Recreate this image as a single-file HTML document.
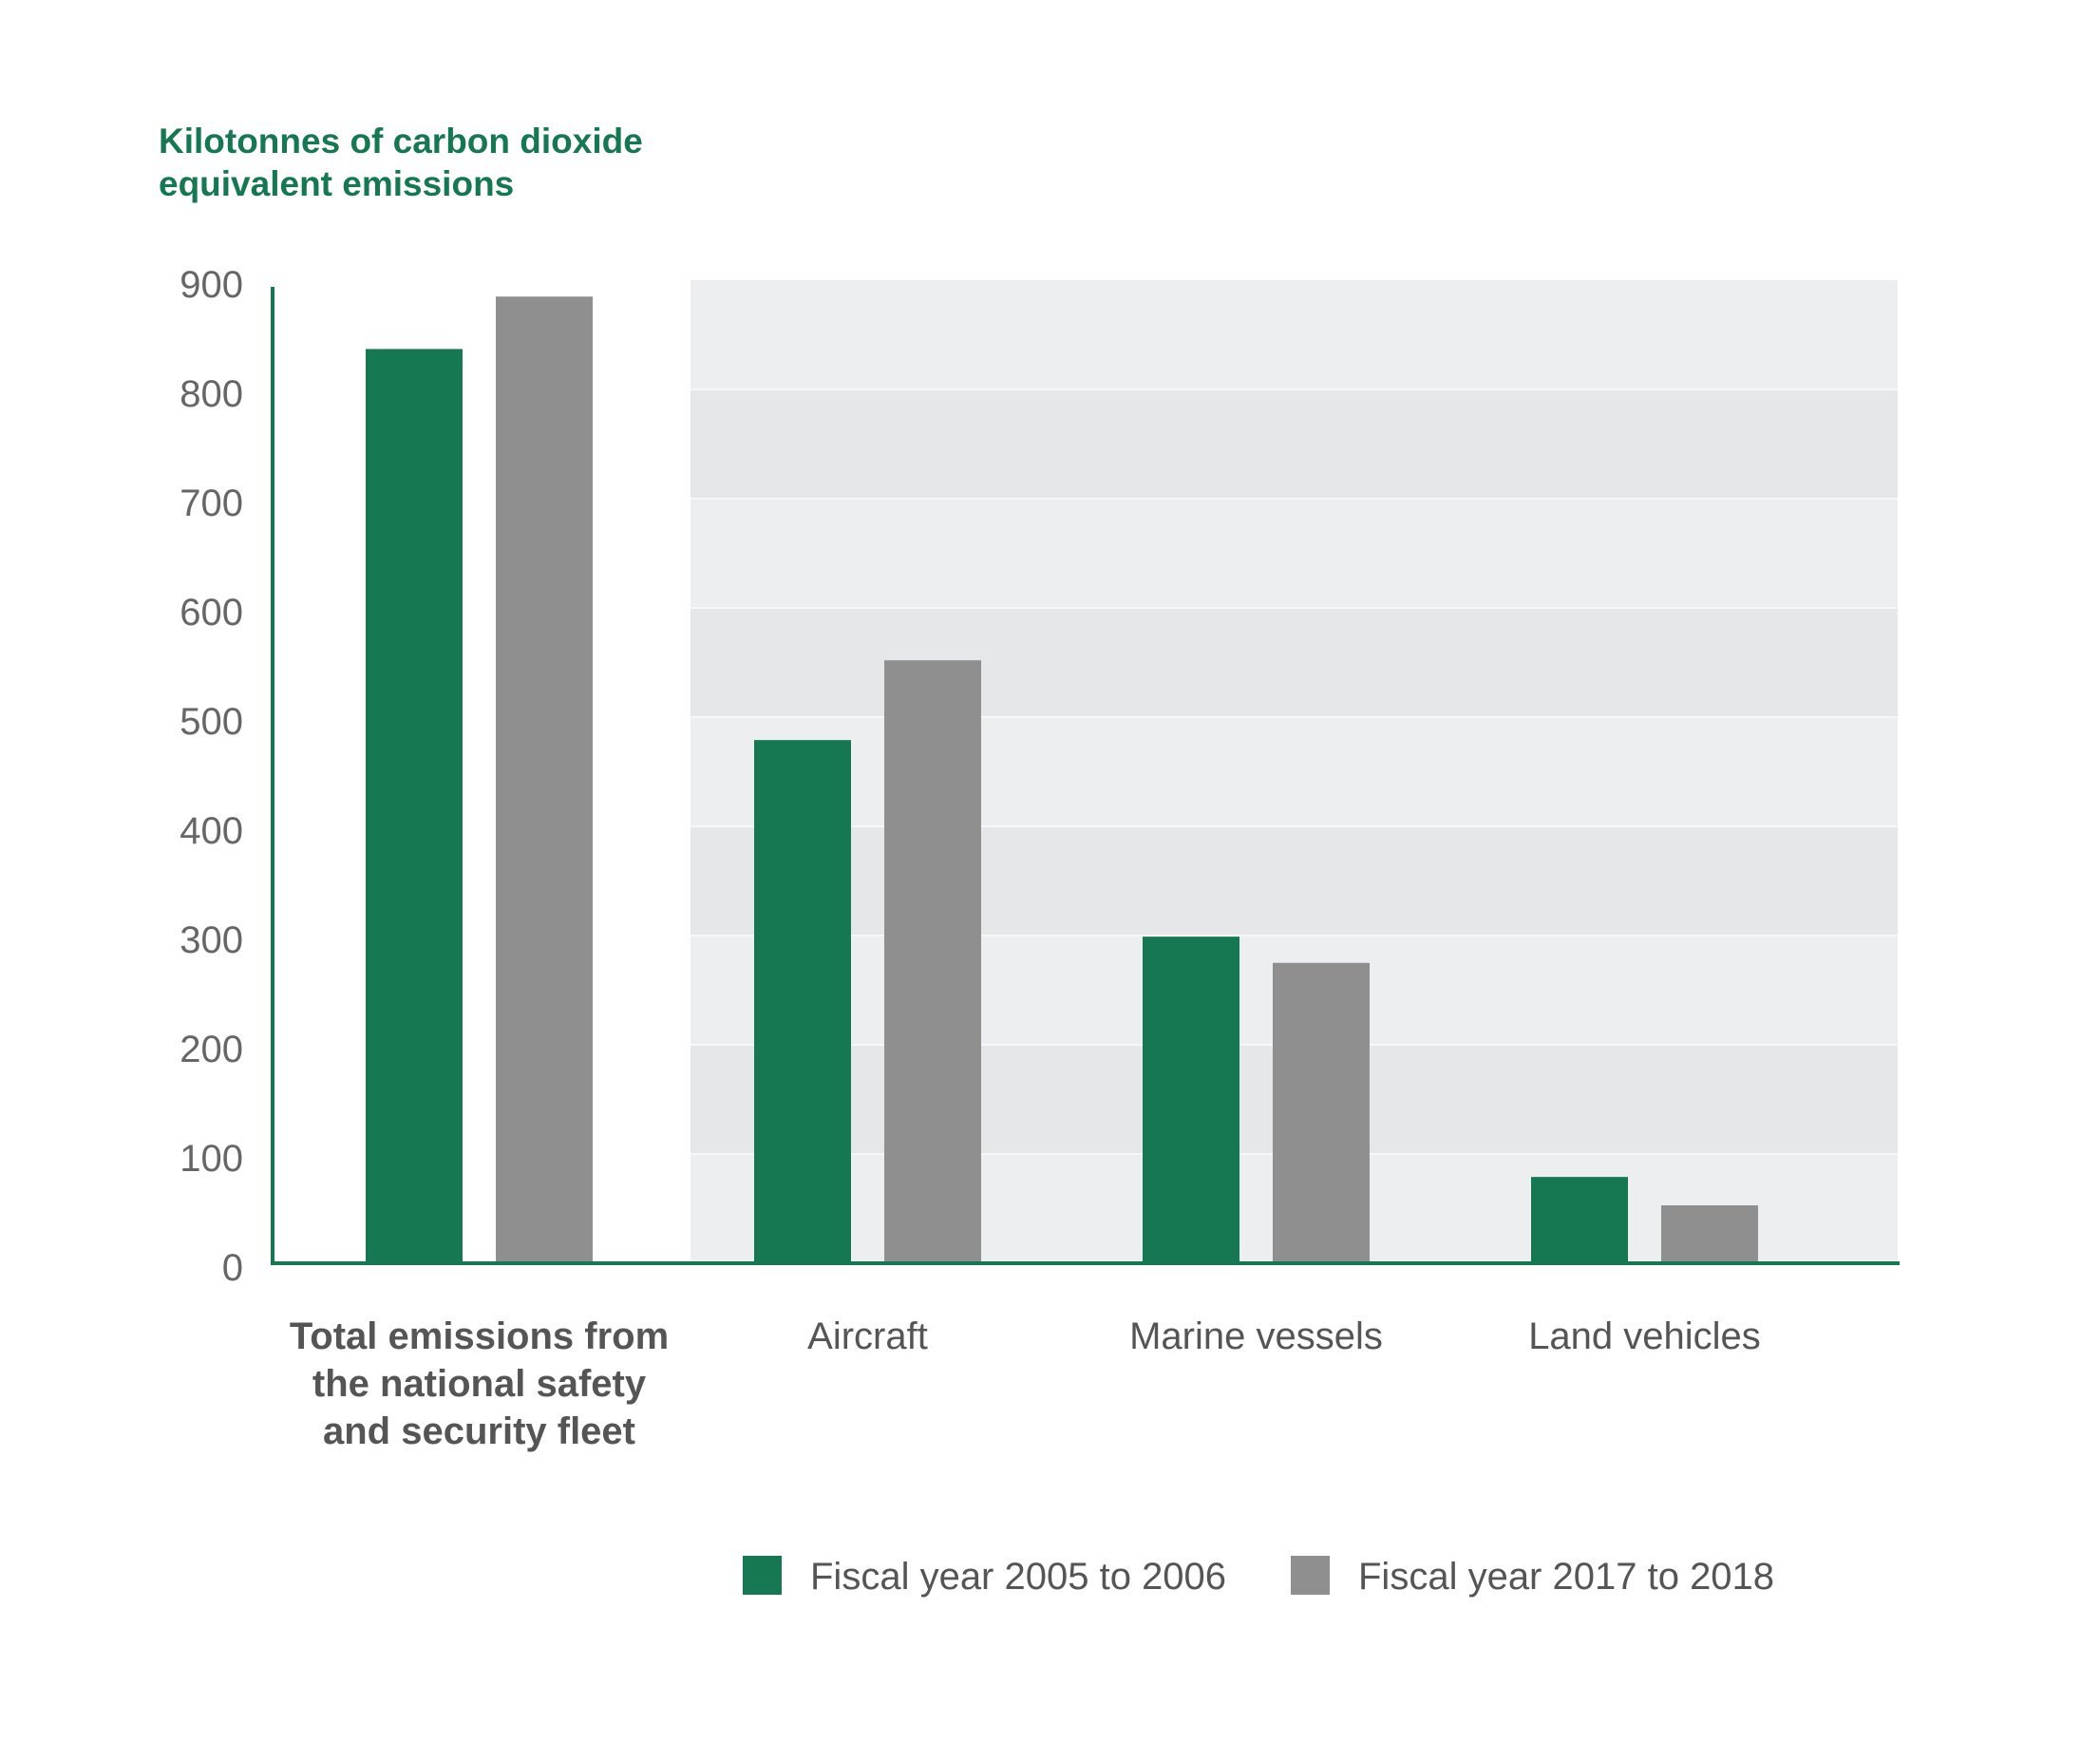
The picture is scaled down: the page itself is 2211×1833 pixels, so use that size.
<!DOCTYPE html>
<html><head><meta charset="utf-8"><style>
html,body{margin:0;padding:0;background:#fff;}
svg{display:block;font-family:"Liberation Sans",sans-serif;}
</style></head><body>
<svg id="chart" width="2211" height="1833" viewBox="0 0 2211 1833" xmlns="http://www.w3.org/2000/svg">
<g>
<text x="167" y="161" font-size="37" font-weight="bold" fill="#157852">Kilotonnes of carbon dioxide</text>
<text x="167" y="206" font-size="37" font-weight="bold" fill="#157852">equivalent emissions</text>
</g>
<g id="bands"></g>
<g id="yticks"></g>
<g id="bars"></g>
<g id="xlabels"></g>
<line x1="287" y1="302" x2="287" y2="1332" stroke="#157852" stroke-width="4"/>
<line x1="285" y1="1330" x2="2000" y2="1330" stroke="#157852" stroke-width="4"/>
<g>
<rect x="782" y="1638" width="41" height="41" fill="#157852"/>
<text x="853" y="1673" font-size="40" fill="#555">Fiscal year 2005 to 2006</text>
<rect x="1359" y="1638" width="41" height="41" fill="#8f8f8f"/>
<text x="1430" y="1673" font-size="40" fill="#555">Fiscal year 2017 to 2018</text>
</g>
</svg>
<script>
const categories = ["Total", "Aircraft", "Marine vessels", "Land vehicles"];
const series2005 = [837, 479, 299, 79];
const series2017 = [885, 552, 275, 53];
const yTicks = [0, 100, 200, 300, 400, 500, 600, 700, 800, 900];
const catLabels = [["Total emissions from","the national safety","and security fleet"],["Aircraft"],["Marine vessels"],["Land vehicles"]];

const NS = "http://www.w3.org/2000/svg";
const y0 = 1330, pxPerUnit = 1.15;
function y(v){ return y0 - v * pxPerUnit; }
const groupStart = 385, groupStep = 409, barW = 102, barGap = 35;
function xGroup(i){ return groupStart + i * groupStep; }
function mk(tag, attrs, parent){ const e = document.createElementNS(NS, tag); for (const k in attrs) e.setAttribute(k, attrs[k]); parent.appendChild(e); return e; }

const bands = document.getElementById('bands');
for (let i = 0; i < yTicks.length - 1; i++) {
  const r = mk('rect', {x: 727, y: y(yTicks[i+1]), width: 1271, height: y(yTicks[i]) - y(yTicks[i+1]), fill: (i % 2 === 0) ? '#edeef0' : '#e6e7e9'}, bands);
  
  
  if (i > 0) {
    const l = mk('line', {x1: 727, x2: 1998, y1: y(yTicks[i]), y2: y(yTicks[i]), stroke: '#f7f7f8', 'stroke-width': 2}, bands);
    
    
  }
}

const yt = document.getElementById('yticks');
yTicks.forEach(v => {
  const t = mk('text', {x: 256, y: y(v) + 18, 'text-anchor': 'end', 'font-size': 40, fill: '#666'}, yt);
  
  
  t.textContent = v;
});

const bars = document.getElementById('bars');
categories.forEach((c, i) => {
  const gx = xGroup(i);
  const b1 = mk('rect', {x: gx, y: y(series2005[i]), width: barW, height: y0 - y(series2005[i]), fill: '#157852'}, bars);
  
  
  const b2 = mk('rect', {x: gx + barW + barGap, y: y(series2017[i]), width: barW, height: y0 - y(series2017[i]), fill: '#8f8f8f'}, bars);
  
  
});

const xl = document.getElementById('xlabels');
catLabels.forEach((lines, i) => {
  const cx = xGroup(i) + (2 * barW + barGap) / 2;
  lines.forEach((ln, j) => {
    const t = mk('text', {x: cx, y: 1420 + j * 50, 'text-anchor': 'middle', 'font-size': 40, fill: '#555', 'font-weight': i === 0 ? 'bold' : 'normal'}, xl);
    
    
    t.textContent = ln;
  });
});
</script>
</body></html>
